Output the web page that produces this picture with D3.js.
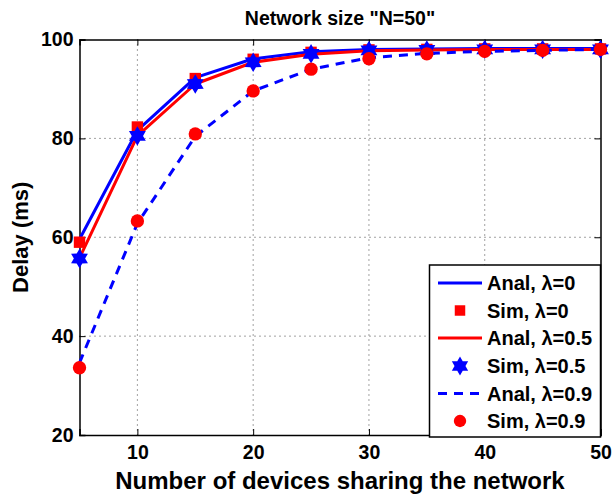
<!DOCTYPE html>
<html><head><meta charset="utf-8">
<script src="https://cdn.jsdelivr.net/npm/d3@7/dist/d3.min.js"></script>
<style>body{margin:0;background:#fff}text{font-family:"Liberation Sans",Arial,sans-serif;font-weight:bold}</style>
</head><body>
<script>
const xs = [5,10,15,20,25,30,35,40,45,50];
const anal0  = [59.6,81.6,92.3,96.1,97.5,98.0,98.1,98.2,98.2,98.2];
const sim0   = [59.0,82.3,92.1,96.0,97.4,97.9,98.0,98.1,98.1,98.1];
const anal05 = [55.8,80.5,91.0,95.4,97.0,97.7,97.9,98.0,98.0,98.0];
const sim05  = [55.7,80.5,91.0,95.4,97.1,97.8,97.9,98.0,98.0,98.0];
const anal09 = [34.6,62.8,80.4,89.6,94.0,96.3,97.2,97.6,97.8,98.0];
const sim09  = [33.6,63.3,80.9,89.6,94.0,96.1,97.1,97.6,97.8,98.0];
const xTicks = [10,20,30,40,50];
const yTicks = [20,40,60,80,100];
const legendLabels = ["Anal, λ=0","Sim, λ=0","Anal, λ=0.5","Sim, λ=0.5","Anal, λ=0.9","Sim, λ=0.9"];

const W=616,H=496;
const L=79.5,R=600.5,T=39.5,B=435;
const svg=d3.select("body").append("svg").attr("width",W).attr("height",H);
const x=d3.scaleLinear().domain([5,50]).range([L,R]);
const y=d3.scaleLinear().domain([20,100]).range([B,T]);

// grid
const g=svg.append("g");
g.selectAll(".gx").data(xTicks.filter(d=>d<50)).enter().append("line")
 .attr("x1",d=>x(d)).attr("x2",d=>x(d)).attr("y1",T).attr("y2",B)
 .attr("stroke","#444").attr("stroke-width",1).attr("stroke-dasharray","1,4");
g.selectAll(".gy").data(yTicks.filter(d=>d>20&&d<100)).enter().append("line")
 .attr("y1",d=>y(d)).attr("y2",d=>y(d)).attr("x1",L).attr("x2",R)
 .attr("stroke","#444").attr("stroke-width",1).attr("stroke-dasharray","1,4");

// axes
const ax=d3.axisBottom(x).tickValues(xTicks).tickSize(-6).tickPadding(10);
const axT=d3.axisTop(x).tickValues(xTicks).tickSize(-6).tickFormat("");
const ay=d3.axisLeft(y).tickValues(yTicks).tickSize(-6).tickPadding(6);
const ayR=d3.axisRight(y).tickValues(yTicks).tickSize(-6).tickFormat("");
function style(sel){sel.select(".domain").attr("stroke","#000").attr("stroke-width",1.5);
 sel.selectAll(".tick line").attr("stroke","#000").attr("stroke-width",1);
 sel.selectAll("text").attr("font-size",19.5).attr("fill","#000").attr("font-family","Liberation Sans, Arial, sans-serif").attr("font-weight","bold");}
svg.append("g").attr("transform",`translate(0,${B})`).call(ax).call(style);
svg.append("g").attr("transform",`translate(0,${T})`).call(axT).call(style);
svg.append("g").attr("transform",`translate(${L},0)`).call(ay).call(style);
svg.append("g").attr("transform",`translate(${R},0)`).call(ayR).call(style);

const line=d3.line().x((d,i)=>x(xs[i])).y(d=>y(d));
const clip=svg.append("g");
function drawLine(data,color,dash){
 clip.append("path").datum(data).attr("d",line).attr("fill","none").attr("stroke",color)
  .attr("stroke-width",3).attr("stroke-dasharray",dash||null).attr("stroke-linejoin","round");
}
const star=d3.symbol().type({draw(ctx,size){const r=Math.sqrt(size)/1.3;
  const pts=[];for(let k=0;k<12;k++){const a=-Math.PI/2+k*Math.PI/6;const rr=k%2?r*0.58:r;pts.push([rr*Math.cos(a),rr*Math.sin(a)]);}
  ctx.moveTo(pts[0][0],pts[0][1]);for(let k=1;k<12;k++)ctx.lineTo(pts[k][0],pts[k][1]);ctx.closePath();}});
function drawMarkers(data,kind,color){
 clip.selectAll(null).data(data).enter().append("path")
  .attr("transform",(d,i)=>`translate(${x(xs[i])},${y(d)})`)
  .attr("d",kind==="square"?d3.symbol().type(d3.symbolSquare).size(130)():kind==="star"?star.size(160)():d3.symbol().type(d3.symbolCircle).size(140)())
  .attr("fill",color);
}
drawLine(anal0,"#0000ff");
drawMarkers(sim0,"square","#ff0000");
drawLine(anal05,"#ff0000");
drawMarkers(sim05,"star","#0000ff");
drawLine(anal09,"#0000ff","9,7");
drawMarkers(sim09,"circle","#ff0000");

// legend
const lg=svg.append("g");
const lx=429.5,ly=265,lw=171,lh=172;
lg.append("rect").attr("x",lx).attr("y",ly).attr("width",lw).attr("height",lh).attr("fill","#fff").attr("stroke","#000").attr("stroke-width",1.5);
const rows=[283,310.5,338,366,393.5,421];
const kinds=[["line","#0000ff",null],["square","#ff0000"],["line","#ff0000",null],["star","#0000ff"],["line","#0000ff","9,7"],["circle","#ff0000"]];
kinds.forEach((k,i)=>{
 const cy=rows[i];
 if(k[0]==="line"){lg.append("line").attr("x1",438).attr("x2",482).attr("y1",cy).attr("y2",cy).attr("stroke",k[1]).attr("stroke-width",3).attr("stroke-dasharray",k[2]);}
 else{lg.append("path").attr("transform",`translate(460,${cy})`)
  .attr("d",k[0]==="square"?d3.symbol().type(d3.symbolSquare).size(110)():k[0]==="star"?star.size(150)():d3.symbol().type(d3.symbolCircle).size(120)()).attr("fill",k[1]);}
 lg.append("text").attr("x",487).attr("y",cy).attr("dy","0.36em").attr("font-size",20).text(legendLabels[i]);
});

svg.append("text").attr("x",(L+R)/2).attr("y",25).attr("text-anchor","middle").attr("font-size",19.5).text('Network size "N=50"');
svg.append("text").attr("x",(L+R)/2).attr("y",489).attr("text-anchor","middle").attr("font-size",24).text("Number of devices sharing the network");
svg.append("text").attr("transform",`translate(28,${(T+B)/2}) rotate(-90)`).attr("text-anchor","middle").attr("font-size",22).text("Delay (ms)");
</script></body></html>
